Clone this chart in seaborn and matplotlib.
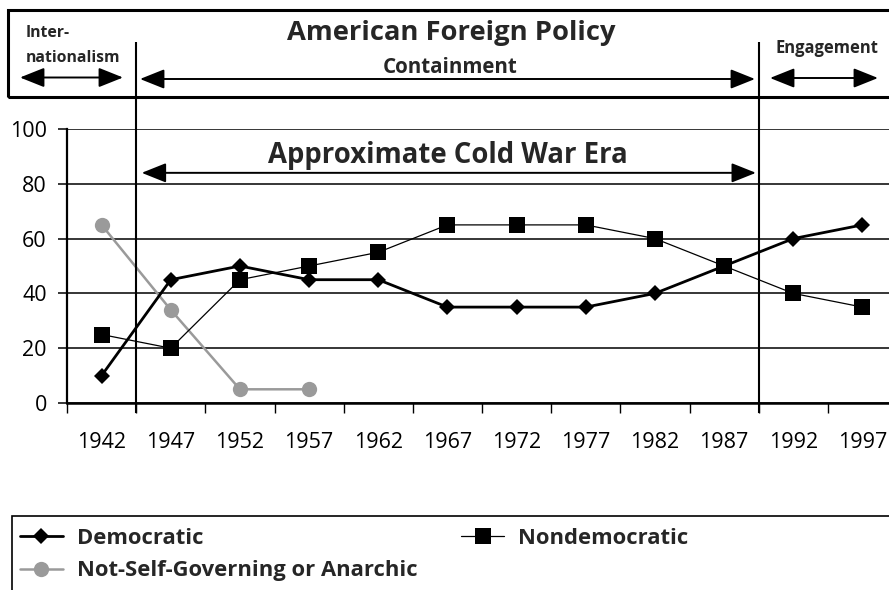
import numpy as np
import pandas as pd
import seaborn as sns
import matplotlib.pyplot as plt
from matplotlib.patches import Rectangle, FancyArrowPatch, ArrowStyle
from matplotlib.lines import Line2D

# Données
years = ["1942", "1947", "1952", "1957", "1962", "1967",
         "1972", "1977", "1982", "1987", "1992", "1997"]
democratic = [10, 45, 50, 45, 45, 35, 35, 35, 40, 50, 60, 65]
nondemocratic = [25, 20, 45, 50, 55, 65, 65, 65, 60, 50, 40, 35]
not_self_gov_years = ["1942", "1947", "1952", "1957"]
not_self_gov = [65, 34, 5, 5]
labels = ["Democratic", "Nondemocratic", "Not-Self-Governing or Anarchic"]

W, H = 889, 590
GRAY = "#9a9a9a"


def fx(x):
    return x / W


def fy(y):
    return 1 - y / H


sns.set_theme(style="white")
plt.rcParams['font.family'] = ['Open Sans', 'DejaVu Sans']

fig = plt.figure(figsize=(W / 100, H / 100), dpi=100)
ax = fig.add_axes([fx(67), fy(403), 12 * 69.17 / W, 274 / H])

# Séries
sns.pointplot(x=not_self_gov_years, y=not_self_gov, order=years, color=GRAY,
              markers="o", linestyles="-", errorbar=None, ax=ax,
              markersize=11, linewidth=1.8, markeredgewidth=0)
sns.pointplot(x=years, y=nondemocratic, order=years, color="black",
              markers="s", linestyles="-", errorbar=None, ax=ax,
              markersize=11, linewidth=0.9, markeredgewidth=0)
sns.pointplot(x=years, y=democratic, order=years, color="black",
              markers="D", linestyles="-", errorbar=None, ax=ax,
              markersize=8, linewidth=2, markeredgewidth=0)

# Axes
ax.set_xlim(-0.5, 11.5)
ax.set_ylim(0, 100)
ax.set_yticks(range(0, 101, 20))
ax.set_xticks(range(len(years)))
ax.set_xticklabels(years)
ax.set_xticks(np.arange(-0.5, 12, 1), minor=True)
ax.set_xlabel("")
ax.set_ylabel("")
ax.yaxis.grid(True, color="black", linewidth=1.1)
ax.set_axisbelow(True)
ax.tick_params(axis="x", which="major", length=0, pad=21, labelsize=15.5,
               labelcolor="black")
ax.tick_params(axis="x", which="minor", length=7.2, width=1.0,
               direction="out", color="black", bottom=True)
ax.tick_params(axis="y", length=6.5, width=1.1, direction="out", pad=8,
               labelsize=15.5, color="black", left=True, labelcolor="black")
for s in ["top", "right"]:
    ax.spines[s].set_visible(False)
ax.spines["left"].set_linewidth(1.6)
ax.spines["bottom"].set_linewidth(1.8)
ax.spines["left"].set_color("black")
ax.spines["bottom"].set_color("black")

# Séparateurs de périodes
ax.vlines([0.5, 9.5], -3.6, 131.8, colors="black", linewidth=1.5, clip_on=False)

head = ArrowStyle("<|-|>", head_length=15, head_width=6)
ax.annotate("", xy=(0.58, 84), xytext=(9.46, 84),
            arrowprops=dict(arrowstyle=head, mutation_scale=1, lw=1.4,
                            color="black", shrinkA=0, shrinkB=0))
ax.text(5, 87.6, "Approximate Cold War Era", ha="center", va="baseline",
        fontsize=19.8, fontweight="bold")

# En-tête
fig.patches.append(Rectangle((fx(7.5), fy(96.5)), fx(905) - fx(7.5), (96.5 - 10.5) / H,
                             transform=fig.transFigure, fill=False,
                             edgecolor="black", linewidth=2.2))
fig.text(fx(451), fy(40), "American Foreign Policy", ha="center",
         va="baseline", fontsize=19.7, fontweight="bold")
fig.text(fx(450), fy(73), "Containment", ha="center", va="baseline",
         fontsize=14.8, fontweight="bold")
fig.text(fx(26), fy(37), "Inter-", ha="left", va="baseline",
         fontsize=11.3, fontweight="bold")
fig.text(fx(26), fy(62), "nationalism", ha="left", va="baseline",
         fontsize=11.3, fontweight="bold")
fig.text(fx(827), fy(53), "Engagement", ha="center", va="baseline",
         fontsize=11.9, fontweight="bold")
for x0, x1, y0 in [(20, 123, 77.5), (140, 755, 79), (770, 878, 78)]:
    fig.patches.append(FancyArrowPatch((fx(x0), fy(y0)), (fx(x1), fy(y0)),
                                       transform=fig.transFigure,
                                       arrowstyle=head, mutation_scale=1,
                                       lw=1.4, color="black",
                                       shrinkA=0, shrinkB=0))

# Légende
fig.patches.append(Rectangle((fx(12), fy(600)), fx(905) - fx(12), (600 - 516) / H,
                             transform=fig.transFigure, fill=False,
                             edgecolor="black", linewidth=1.2))
handles = [
    Line2D([], [], color="black", lw=2, marker="D", markersize=8, mew=0),
    Line2D([], [], color=GRAY, lw=1.8, marker="o", markersize=11, mew=0),
    Line2D([], [], color="black", lw=0.9, marker="s", markersize=11, mew=0),
]
fig.legend(handles, [labels[0], labels[2], labels[1]], loc="upper left",
           bbox_to_anchor=(fx(20), fy(528)), ncol=2, frameon=False,
           borderpad=0, borderaxespad=0, handlelength=1.95,
           handletextpad=0.63, columnspacing=2.0, labelspacing=0.52,
           prop={"size": 15.8, "weight": "bold"})

fig.savefig("out.png", dpi=100)
